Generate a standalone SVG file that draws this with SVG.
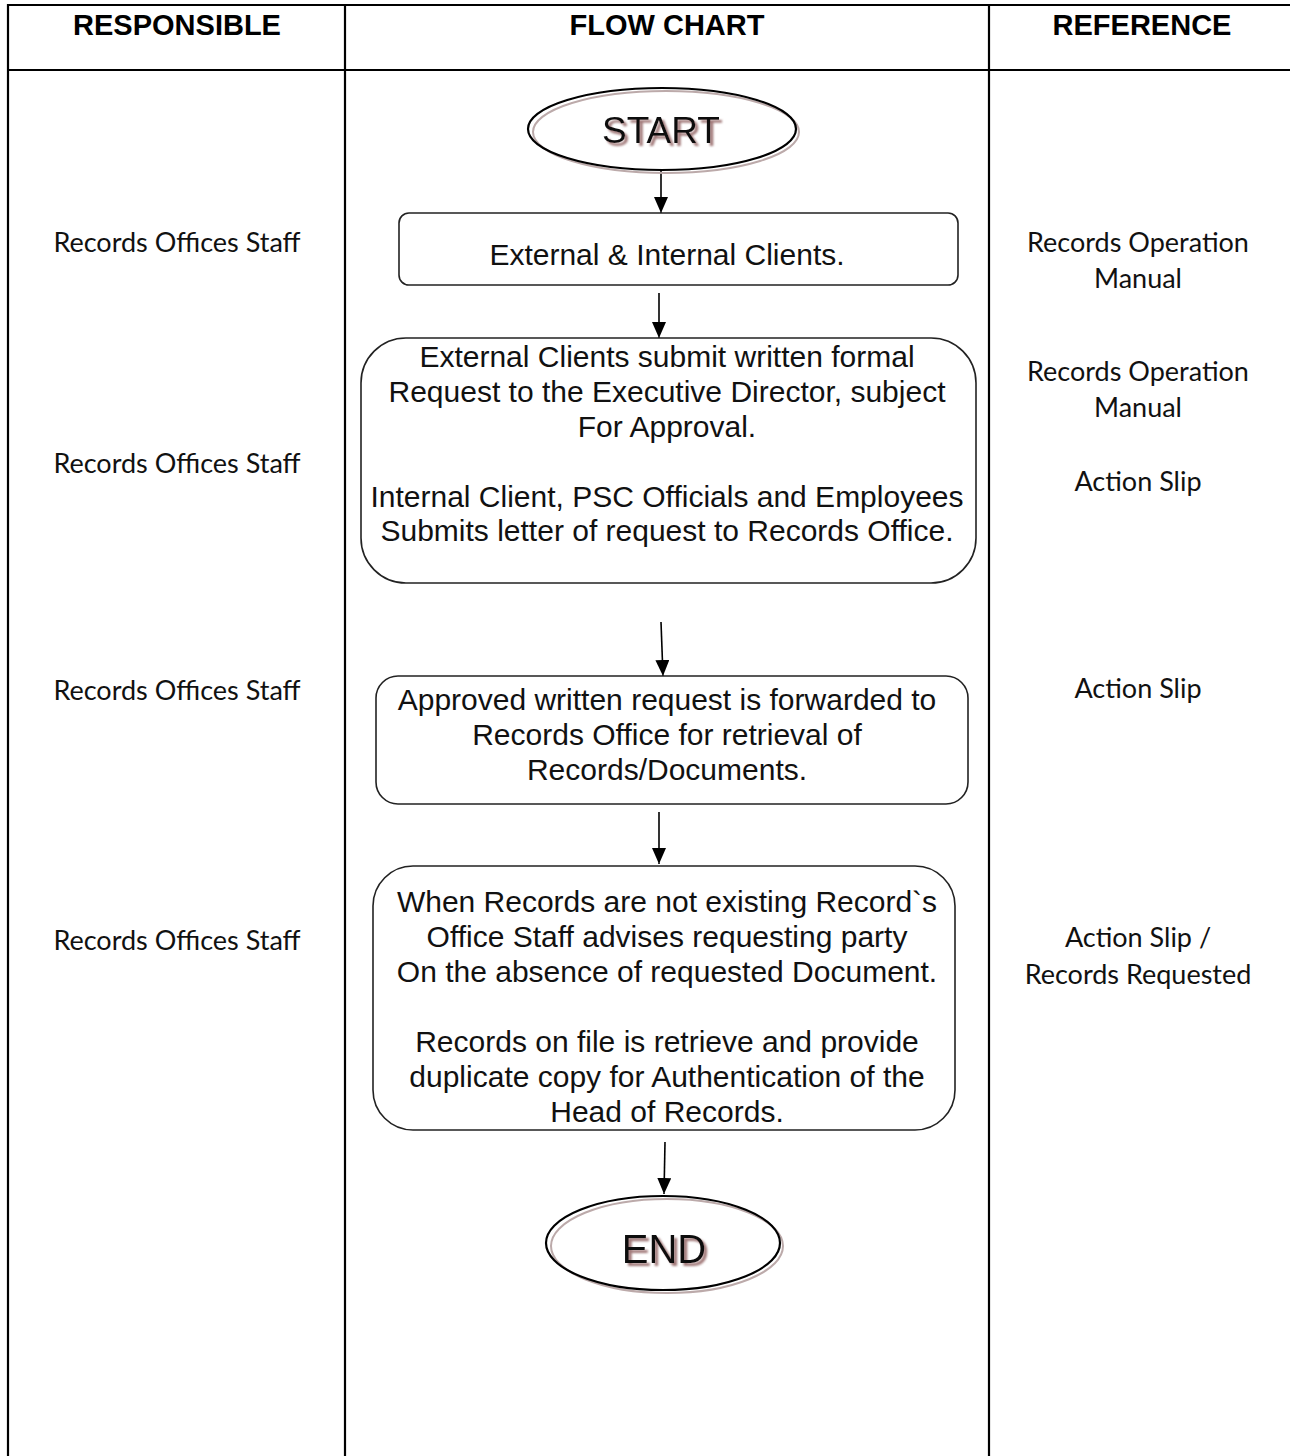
<svg xmlns="http://www.w3.org/2000/svg" width="1290" height="1456" viewBox="0 0 1290 1456">
<defs>
<style>
.grid{stroke:#000;stroke-width:2.2;fill:none}
.hdr{font-family:"Liberation Sans",Arial,sans-serif;font-weight:bold;font-size:29px;text-anchor:middle;fill:#000}
.side{font-family:Lato,"Open Sans",sans-serif;font-size:27px;text-anchor:middle;fill:#111}
.box{fill:#fff;stroke:#222;stroke-width:1.6}
.bt{font-family:"Liberation Sans",Arial,sans-serif;font-size:30px;text-anchor:middle;fill:#111}
.term{fill:none;stroke:#000;stroke-width:2.2}
.termsh{fill:none;stroke:#bcaaaa;stroke-width:2}
.tt{font-family:"Liberation Sans",Arial,sans-serif;text-anchor:middle;fill:#111;filter:url(#tsh)}
.conn{stroke:#000;stroke-width:1.6;fill:none}
</style>
<filter id="tsh" x="-20%" y="-30%" width="140%" height="160%">
<feDropShadow dx="3" dy="3" stdDeviation="0.8" flood-color="#a07878" flood-opacity="1"/>
</filter>
<marker id="ah" markerUnits="userSpaceOnUse" markerWidth="14" markerHeight="18" viewBox="0 0 14 18" refX="16" refY="7" orient="auto">
<path d="M0,0 L16,7 L0,14 z" fill="#000"/>
</marker>
</defs>
<rect width="1290" height="1456" fill="#fff"/>
<g id="table">
<line class="grid" x1="8" y1="5" x2="1290" y2="5"/>
<line class="grid" x1="8" y1="70" x2="1290" y2="70"/>
<line class="grid" x1="8" y1="4" x2="8" y2="1456"/>
<line class="grid" x1="345" y1="4" x2="345" y2="1456"/>
<line class="grid" x1="989" y1="4" x2="989" y2="1456"/>
<text class="hdr" x="177" y="35">RESPONSIBLE</text>
<text class="hdr" x="667" y="35">FLOW CHART</text>
<text class="hdr" x="1142" y="35">REFERENCE</text>
</g>
<g id="responsible">
<text class="side" x="177" y="252">Records Offices Staff</text>
<text class="side" x="177" y="473">Records Offices Staff</text>
<text class="side" x="177" y="700">Records Offices Staff</text>
<text class="side" x="177" y="950">Records Offices Staff</text>
</g>
<g id="reference">
<text class="side" x="1138" y="252">Records Operation</text>
<text class="side" x="1138" y="288">Manual</text>
<text class="side" x="1138" y="381">Records Operation</text>
<text class="side" x="1138" y="417">Manual</text>
<text class="side" x="1138" y="491">Action Slip</text>
<text class="side" x="1138" y="698">Action Slip</text>
<text class="side" x="1138" y="947">Action Slip /</text>
<text class="side" x="1138" y="984">Records Requested</text>
</g>
<g id="connectors">
<line class="conn" x1="661" y1="170" x2="661" y2="213" marker-end="url(#ah)"/>
<line class="conn" x1="659" y1="293" x2="659" y2="338" marker-end="url(#ah)"/>
<line class="conn" x1="661" y1="622" x2="663" y2="676" marker-end="url(#ah)"/>
<line class="conn" x1="659" y1="812" x2="659" y2="864" marker-end="url(#ah)"/>
<line class="conn" x1="665" y1="1142" x2="664" y2="1194" marker-end="url(#ah)"/>
</g>
<g id="start">
<ellipse class="termsh" cx="666" cy="132" rx="133" ry="41"/>
<ellipse class="term" cx="662" cy="129" rx="134" ry="41"/>
<text class="tt" x="661" y="143" font-size="37">START</text>
</g>
<g id="n1">
<rect class="box" x="399" y="213" width="559" height="72" rx="10"/>
<text class="bt" x="667" y="265">External &amp; Internal Clients.</text>
</g>
<g id="n2">
<rect class="box" x="361" y="338" width="615" height="245" rx="45"/>
<text class="bt" x="667" y="367">External Clients submit written formal</text>
<text class="bt" x="667" y="402">Request to the Executive Director, subject</text>
<text class="bt" x="667" y="437">For Approval.</text>
<text class="bt" x="667" y="507">Internal Client, PSC Officials and Employees</text>
<text class="bt" x="667" y="541">Submits letter of request to Records Office.</text>
</g>
<g id="n3">
<rect class="box" x="376" y="676" width="592" height="128" rx="22"/>
<text class="bt" x="667" y="710">Approved written request is forwarded to</text>
<text class="bt" x="667" y="745">Records Office for retrieval of</text>
<text class="bt" x="667" y="780">Records/Documents.</text>
</g>
<g id="n4">
<rect class="box" x="373" y="866" width="582" height="264" rx="40"/>
<text class="bt" x="667" y="912">When Records are not existing Record`s</text>
<text class="bt" x="667" y="947">Office Staff advises requesting party</text>
<text class="bt" x="667" y="982">On the absence of requested Document.</text>
<text class="bt" x="667" y="1052">Records on file is retrieve and provide</text>
<text class="bt" x="667" y="1087">duplicate copy for Authentication of the</text>
<text class="bt" x="667" y="1122">Head of Records.</text>
</g>
<g id="end">
<ellipse class="termsh" cx="667" cy="1246" rx="116" ry="47"/>
<ellipse class="term" cx="663" cy="1243" rx="117" ry="47"/>
<text class="tt" x="664" y="1263" font-size="40">END</text>
</g>
</svg>
